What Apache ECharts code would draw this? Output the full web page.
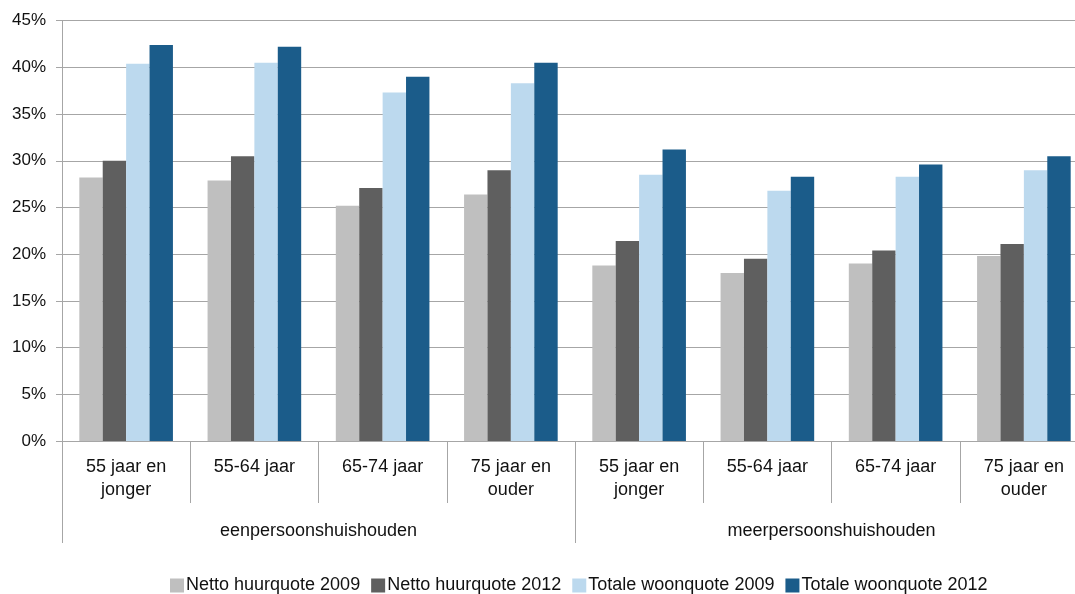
<!DOCTYPE html>
<html>
<head>
<meta charset="utf-8">
<script src="https://cdn.jsdelivr.net/npm/echarts@6/dist/echarts.min.js"></script>
<style>
html,body{margin:0;padding:0;background:#fff;}
#c{width:1075px;height:594px;}
</style>
</head>
<body>
<div id="c"></div>
<script>
const subCategories = ['55 jaar en\njonger','55-64 jaar','65-74 jaar','75 jaar en\nouder','55 jaar en\njonger','55-64 jaar','65-74 jaar','75 jaar en\nouder'];
const groups = ['eenpersoonshuishouden','meerpersoonshuishouden'];
const seriesNames = ['Netto huurquote 2009','Netto huurquote 2012','Totale woonquote 2009','Totale woonquote 2012'];
const netto2009 = [28.2, 27.9, 25.2, 26.4, 18.8, 18.0, 19.0, 19.8];
const netto2012 = [30.0, 30.5, 27.1, 29.0, 21.4, 19.5, 20.4, 21.1];
const totaal2009 = [40.4, 40.5, 37.3, 38.3, 28.5, 26.8, 28.3, 29.0];
const totaal2012 = [42.4, 42.2, 39.0, 40.5, 31.2, 28.3, 29.6, 30.5];
const yTicks = [0, 5, 10, 15, 20, 25, 30, 35, 40, 45];

const colors = ['#BFBFBF','#5F5F5F','#BCD9EE','#1B5C8A'];
const font = "'Liberation Sans', Arial, sans-serif";
const axisGray = '#A6A6A6';

const chart = echarts.init(document.getElementById('c'), null, {renderer:'canvas'});
const values = [netto2009, netto2012, totaal2009, totaal2012];
chart.setOption({
  animation: false,
  textStyle: {fontFamily: font},
  color: colors,
  grid: {left: 62, top: 20.7, width: 1026, bottom: 153, outerBoundsMode: 'none', containLabel: false},
  legend: {
    data: seriesNames,
    left: 170, top: 576.5, padding: 0,
    itemWidth: 14, itemHeight: 14, itemGap: 11,
    icon: 'rect',
    textStyle: {fontFamily: font, fontSize: 18, color: '#111', padding: [0,0,0,-3]}
  },
  xAxis: [
    {
      type: 'category', data: subCategories, position: 'bottom',
      axisLine: {show: true, lineStyle: {color: axisGray, width: 1}},
      axisTick: {show: true, interval: 0, length: 62, lineStyle: {color: axisGray}},
      axisLabel: {interval: 0, margin: 15, fontSize: 18, lineHeight: 23, color: '#111', fontFamily: font, verticalAlign: 'top'},
      splitLine: {show: false}
    },
    {
      type: 'category', data: groups, position: 'bottom',
      axisLine: {show: false},
      axisTick: {show: true, interval: 0, length: 102, lineStyle: {color: axisGray}},
      axisLabel: {interval: 0, margin: 79, fontSize: 18, lineHeight: 23, color: '#111', fontFamily: font, verticalAlign: 'top'},
      splitLine: {show: false}
    }
  ],
  yAxis: {
    type: 'value', min: yTicks[0], max: yTicks[yTicks.length-1], interval: 5,
    axisLine: {show: true, lineStyle: {color: axisGray}},
    axisTick: {show: true, length: 6, lineStyle: {color: axisGray}},
    axisLabel: {formatter: '{value}%', fontSize: 17, color: '#111', margin: 16, fontFamily: font},
    splitLine: {show: true, lineStyle: {color: axisGray, width: 1}}
  },
  series: seriesNames.map((n, i) => ({
    name: n, type: 'bar', xAxisIndex: 0, data: values[i],
    barGap: '0%', barCategoryGap: '27%',
    itemStyle: {color: colors[i]}
  }))
});
</script>
</body>
</html>
